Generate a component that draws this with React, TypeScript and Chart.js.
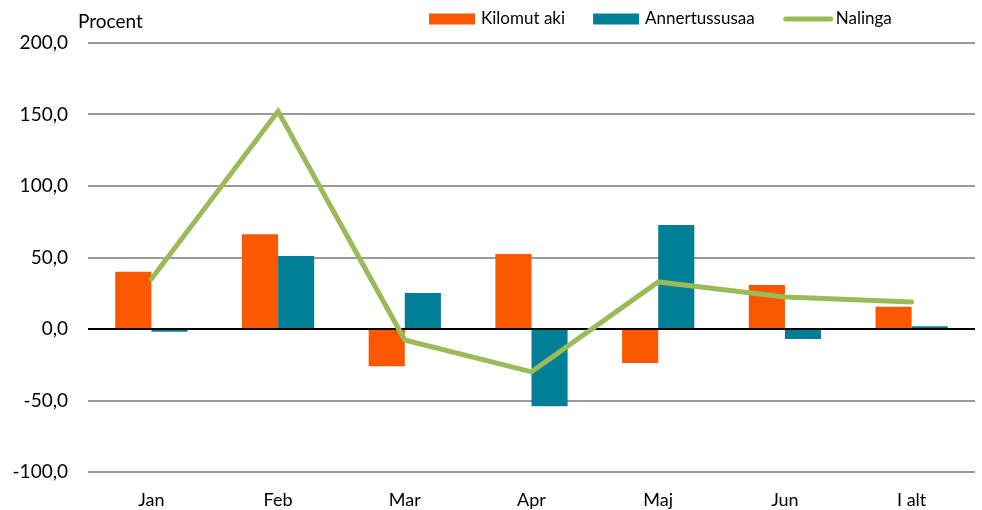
import React, { useEffect, useRef } from "react";
import { Chart, registerables } from "chart.js";

Chart.register(...registerables);

const categories = ["Jan", "Feb", "Mar", "Apr", "Maj", "Jun", "I alt"];
const kilomutAki = [40.0, 66.2, -26.0, 52.5, -23.8, 30.8, 15.5];
const annertussusaa = [-2.0, 51.0, 25.2, -54.0, 72.7, -7.0, 2.0];
const nalinga = [35.0, 152.3, -7.7, -30.0, 32.9, 22.4, 18.9];
const yTicks = [-100, -50, 0, 50, 100, 150, 200];

const ORANGE = "#F95700";
const TEAL = "#007F96";
const GREEN = "#9BBB59";
const FONT = "Lato, 'Open Sans', sans-serif";

const overlayPlugin = {
  id: "overlay",
  afterDraw(chart: any) {
    const ctx = chart.ctx;
    ctx.save();
    ctx.fillStyle = "#000";
    ctx.font = `19px ${FONT}`;
    ctx.textBaseline = "middle";
    ctx.textAlign = "left";
    ctx.fillText("Procent", 78, 22);

    ctx.font = `17px ${FONT}`;
    const items = [
      { label: "Kilomut aki", color: ORANGE, type: "box" },
      { label: "Annertussusaa", color: TEAL, type: "box" },
      { label: "Nalinga", color: GREEN, type: "line" },
    ];
    let x = 429;
    const y = 19;
    items.forEach((it) => {
      if (it.type === "box") {
        ctx.fillStyle = it.color;
        ctx.fillRect(x, y - 5.5, 46, 11);
        x += 52;
      } else {
        ctx.strokeStyle = it.color;
        ctx.lineWidth = 5;
        ctx.lineCap = "round";
        ctx.beginPath();
        ctx.moveTo(x + 3, y);
        ctx.lineTo(x + 48, y);
        ctx.stroke();
        x += 53;
      }
      ctx.fillStyle = "#000";
      ctx.fillText(it.label, x, y);
      x += ctx.measureText(it.label).width + 28;
    });
    ctx.restore();
  },
};

export default function App() {
  const ref = useRef<HTMLCanvasElement>(null);
  useEffect(() => {
    if (!ref.current) return;
    const chart = new Chart(ref.current, {
      type: "bar",
      data: {
        labels: categories,
        datasets: [
          {
            type: "line" as any,
            label: "Nalinga",
            data: nalinga,
            borderColor: GREEN,
            backgroundColor: GREEN,
            borderWidth: 5,
            pointRadius: 0,
            tension: 0,
            borderCapStyle: "round",
            borderJoinStyle: "miter",
            order: 0,
          } as any,
          {
            label: "Kilomut aki",
            data: kilomutAki,
            backgroundColor: ORANGE,
            barPercentage: 1,
            categoryPercentage: 0.57,
            order: 1,
          },
          {
            label: "Annertussusaa",
            data: annertussusaa,
            backgroundColor: TEAL,
            barPercentage: 1,
            categoryPercentage: 0.57,
            order: 1,
          },
        ],
      },
      options: {
        animation: false,
        responsive: false,
        maintainAspectRatio: false,
        layout: { padding: { left: 8, right: 7, top: 43, bottom: 0 } },
        plugins: {
          legend: { display: false },
          tooltip: { enabled: false },
        },
        scales: {
          x: {
            grid: { display: false, drawTicks: false },
            border: { display: false },
            ticks: {
              color: "#000",
              font: { family: FONT, size: 18 },
              padding: 17,
            },
            afterFit: (s: any) => {
              s.height = 38;
            },
          },
          y: {
            min: -100,
            max: 200,
            afterBuildTicks: (s: any) => {
              s.ticks = yTicks.map((v) => ({ value: v }));
            },
            grid: {
              color: (c: any) => (c.tick && c.tick.value === 0 ? "#000" : "#9a9a9a"),
              lineWidth: 2,
              drawTicks: false,
            },
            border: { display: false },
            ticks: {
              color: "#000",
              font: { family: FONT, size: 19 },
              padding: 20,
              callback: (v: any) => Number(v).toFixed(1).replace(".", ","),
            },
            afterFit: (s: any) => {
              s.width = 80;
            },
          },
        },
      },
      plugins: [overlayPlugin],
    });
    return () => chart.destroy();
  }, []);
  return (
    <div style={{ position: "fixed", left: 0, top: 0, width: 982, height: 510, background: "#fff" }}>
      <canvas ref={ref} width={982} height={510} style={{ display: "block" }} />
    </div>
  );
}
